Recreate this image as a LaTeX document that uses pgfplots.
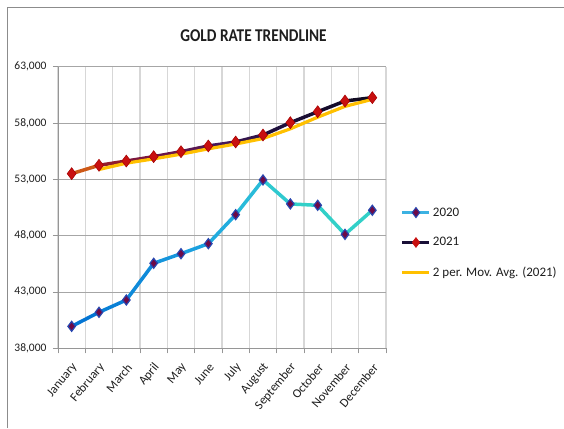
\documentclass[border=0pt]{standalone}
\usepackage{fontspec}
\setmainfont{Carlito}
\newfontfamily\titlefont{Carlito}[FakeStretch=0.85]
\usepackage{pgfplots}
\pgfplotsset{compat=1.18}
\definecolor{framegray}{RGB}{140,140,140}
\definecolor{ygrid}{RGB}{166,166,166}
\definecolor{xgrid}{RGB}{215,215,215}
\definecolor{axgray}{RGB}{150,150,150}
\definecolor{txt}{RGB}{30,30,30}
\definecolor{mafill}{RGB}{255,192,0}
\definecolor{leg2020}{RGB}{60,178,226}
\definecolor{leg2021}{RGB}{25,15,55}
\definecolor{mk2020fill}{RGB}{110,10,70}
\definecolor{mk2020draw}{RGB}{40,70,175}
\definecolor{mk2021fill}{RGB}{200,16,16}
\definecolor{mk2021draw}{RGB}{165,0,0}
\pgfplotsset{
  colormap={cmA}{rgb255(0cm)=(0,112,210) rgb255(5cm)=(30,165,225) rgb255(7cm)=(45,195,215) rgb255(8cm)=(50,208,200) rgb255(11cm)=(50,208,200)},
  colormap={cmB}{rgb255(0cm)=(240,125,10) rgb255(1.3cm)=(150,30,40) rgb255(3cm)=(115,20,70) rgb255(5.5cm)=(70,25,90) rgb255(7.5cm)=(30,15,60) rgb255(11cm)=(15,10,30)},
}
\begin{document}
\begin{tikzpicture}
\begin{axis}[
  name=ax, scale only axis,
  width=328pt, height=281.5pt,
  xmin=-0.5, xmax=11.5, ymin=38000, ymax=63000,
  axis lines=left, axis line style={-, draw=axgray, line width=0.8pt},
  xtick={0,...,11},
  xticklabels={January,February,March,April,May,June,July,August,September,October,November,December},
  minor xtick={-0.5,0.5,...,11.5},
  ytick={38000,43000,...,63000},
  minor ytick={38000,43000,...,63000},
  scaled y ticks=false,
  /pgf/number format/1000 sep={,},
  /pgf/number format/assume math mode=true,
  major tick length=0pt, minor tick length=5pt, tick align=outside,
  minor tick style={draw=axgray, line width=0.8pt},
  xminorgrids=true, ymajorgrids=true,
  minor grid style={draw=xgrid, line width=1.5pt},
  major grid style={draw=ygrid, line width=0.8pt},
  point meta min=0, point meta max=11,
  yticklabel style={font=\fontsize{11.5}{13}\selectfont, text=txt, xshift=-8pt},
  xticklabel style={font=\fontsize{12.5}{14}\selectfont, text=txt, yshift=-16pt, xshift=4pt, rotate=50, anchor=east, inner sep=1pt},
  legend style={at={(1.045,0.374)}, anchor=west, draw=none, fill=none, inner sep=0pt,
    font=\fontsize{13}{15}\selectfont, text=txt, row sep=16pt},
  legend cell align=left,
  legend image code/.code={\draw[mark repeat=2,mark phase=2,#1] plot coordinates {(0pt,0pt) (13.5pt,0pt) (27pt,0pt)};},
]
\addlegendimage{color=leg2020, line width=3pt, mark=diamond*, mark size=5pt, mark options={fill=mk2020fill, draw=mk2020draw, line width=1pt}}
\addlegendentry{2020}
\addlegendimage{color=leg2021, line width=3pt, mark=diamond*, mark size=5pt, mark options={fill=mk2021fill, draw=mk2021fill, line width=0.5pt}}
\addlegendentry{2021}
\addlegendimage{color=mafill, line width=3pt}
\addlegendentry{2 per. Mov. Avg. (2021)}

% 2020 line (gradient)
\addplot[mesh, colormap name=cmA, point meta=x, line width=3.5pt, line cap=round, forget plot]
coordinates {(0,39950) (1,41200) (2,42290) (3,45550) (4,46400) (5,47290) (6,49870) (7,52950) (8,50820) (9,50700) (10,48120) (11,50260)};
\addplot[only marks, mark=diamond*, mark size=5pt, mark options={fill=mk2020fill, draw=mk2020draw, line width=1.2pt}, forget plot]
coordinates {(0,39950) (1,41200) (2,42290) (3,45550) (4,46400) (5,47290) (6,49870) (7,52950) (8,50820) (9,50700) (10,48120) (11,50260)};

% 2021 line (gradient)
\addplot[mesh, colormap name=cmB, point meta=x, line width=3.5pt, line cap=round, forget plot]
coordinates {(0,53510) (1,54250) (2,54630) (3,55020) (4,55460) (5,55970) (6,56320) (7,56940) (8,58040) (9,59010) (10,59960) (11,60260)};

% 2-period moving average
\addplot[color=mafill, line width=3.2pt, line join=round, forget plot]
coordinates {(1,53880) (2,54440) (3,54825) (4,55240) (5,55715) (6,56145) (7,56630) (8,57490) (9,58525) (10,59485) (11,60110)};

\addplot[only marks, mark=diamond*, mark size=6pt, mark options={fill=mk2021fill, draw=mk2021draw, line width=0.5pt}, forget plot]
coordinates {(0,53510) (1,54250) (2,54630) (3,55020) (4,55460) (5,55970) (6,56320) (7,56940) (8,58040) (9,59010) (10,59960) (11,60260)};
\end{axis}
\begin{scope}[shift={(ax.south west)}, xshift=-58pt, yshift=-79.7pt, x=1pt, y=1pt]
\pgfresetboundingbox
\useasboundingbox (0,0) rectangle (564,428);
\draw[color=framegray, line width=0.8pt] (7.5,0) -- (7.5,420.5) -- (564,420.5);
\node[font=\titlefont\fontsize{18}{21}\selectfont\bfseries, text=txt] at (253.5,392) {GOLD RATE TRENDLINE};
\end{scope}
\end{tikzpicture}
\end{document}
